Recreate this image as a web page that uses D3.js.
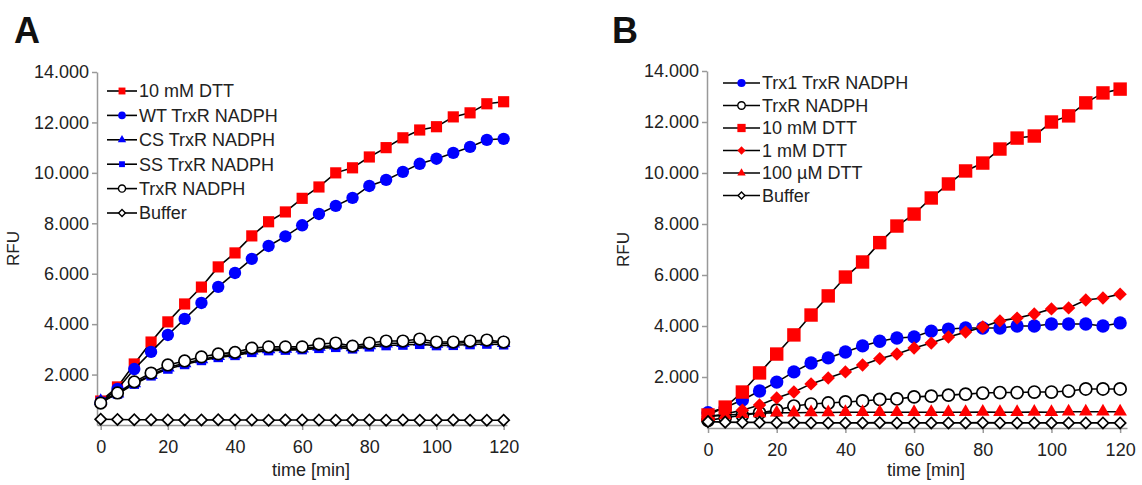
<!DOCTYPE html>
<html>
<head>
<meta charset="utf-8">
<script src="https://cdn.jsdelivr.net/npm/d3@7"></script>
<style>
  body { margin: 0; background: #fff; }
  svg { font-family: Arial, "Liberation Sans", sans-serif; }
</style>
</head>
<body>
<svg width="1142" height="485"></svg>
<script>
// ---- data ----
const time = [0,5,10,15,20,25,30,35,40,45,50,55,60,65,70,75,80,85,90,95,100,105,110,115,120];
const yTicks = [2000,4000,6000,8000,10000,12000,14000];
const xTicks = [0,20,40,60,80,100,120];

// panel A
const a_labels = ['10 mM DTT','WT TrxR NADPH','CS TrxR NADPH','SS TrxR NADPH','TrxR NADPH','Buffer'];
const a_dtt10 = [950,1510,2420,3290,4090,4800,5470,6270,6825,7500,8060,8450,8990,9440,10000,10200,10630,11000,11390,11700,11830,12220,12380,12740,12820];
const a_wt    = [900,1430,2220,2900,3570,4210,4840,5480,6030,6590,7100,7480,7920,8370,8690,9010,9480,9720,10040,10360,10560,10790,11030,11310,11350];
const a_cs    = [950,1250,1650,1980,2280,2450,2600,2730,2800,2950,3000,3020,3030,3100,3150,3080,3160,3230,3250,3300,3220,3230,3280,3300,3250];
const a_ss    = [930,1230,1620,1950,2220,2400,2560,2680,2760,2880,2950,2970,2990,3040,3080,3020,3100,3150,3170,3200,3150,3160,3190,3210,3180];
const a_trxr  = [870,1270,1710,2060,2380,2540,2700,2820,2880,3050,3100,3100,3100,3210,3250,3130,3250,3330,3330,3410,3290,3290,3330,3370,3290];
const a_buf   = [230,220,210,210,200,200,200,210,200,200,190,200,200,200,190,200,200,190,200,190,190,200,190,190,190];

// panel B
const b_labels = ['Trx1 TrxR NADPH','TrxR NADPH','10 mM DTT','1 mM DTT','100 \u00b5M DTT','Buffer'];
const b_trx1   = [600,800,1100,1450,1800,2200,2550,2750,2980,3220,3400,3530,3570,3800,3880,3920,3920,3920,4000,4000,4080,4080,4080,4000,4120];
const b_trxr   = [300,400,500,590,700,860,940,980,1020,1060,1120,1140,1220,1250,1290,1330,1370,1390,1390,1410,1410,1450,1530,1530,1530];
const b_dtt10  = [510,820,1410,2160,2900,3650,4430,5180,5920,6510,7270,7920,8390,9020,9570,10080,10390,10940,11370,11450,12000,12240,12750,13140,13290];
const b_dtt1   = [450,550,700,900,1180,1410,1730,1960,2200,2470,2720,2900,3140,3330,3570,3760,3960,4200,4310,4470,4670,4710,5020,5100,5250];
const b_dtt100 = [450,500,550,580,600,600,610,610,620,620,620,620,620,620,620,620,630,620,620,630,620,640,640,640,640];
const b_buf    = [250,230,220,220,210,210,200,200,200,200,210,200,200,200,200,200,210,200,200,200,200,200,200,200,200];

const svg = d3.select('svg');
const deLocale = d3.formatLocale({decimal: ',', thousands: '.', grouping: [3], currency: ['', '€']});
const fmt = deLocale.format(',');

const RED = '#ff0000', BLUE = '#0000ff';

// marker styles
const mk = {
  redSquare:  {type: d3.symbolSquare, fill: RED, stroke: 'none', rot: 0},
  blueCircle: {type: d3.symbolCircle, fill: BLUE, stroke: 'none', rot: 0},
  blueTri:    {type: d3.symbolTriangle, fill: BLUE, stroke: 'none', rot: 0},
  blueSquare: {type: d3.symbolSquare, fill: BLUE, stroke: 'none', rot: 0},
  openCircle: {type: d3.symbolCircle, fill: '#fff', stroke: '#000', rot: 0},
  openDiamond:{type: d3.symbolSquare, fill: '#fff', stroke: '#000', rot: 45},
  redDiamond: {type: d3.symbolSquare, fill: RED, stroke: 'none', rot: 45},
  redTri:     {type: d3.symbolTriangle, fill: RED, stroke: 'none', rot: 0}
};

function drawPanel(p) {
  const x = d3.scaleLinear().domain(p.xDomain).range([p.left, p.right]);
  const y = d3.scaleLinear().domain([0, 14000]).range([p.bottom, p.top]);
  const g = svg.append('g');

  // axes
  const xa = g.append('g').attr('transform', `translate(0,${p.bottom})`)
    .call(d3.axisBottom(x).tickValues(xTicks).tickSize(5).tickSizeOuter(0).tickPadding(10));
  const ya = g.append('g').attr('transform', `translate(${p.left},0)`)
    .call(d3.axisLeft(y).tickValues(yTicks).tickFormat(fmt).tickSize(5).tickSizeOuter(0).tickPadding(3));
  [xa, ya].forEach(a => {
    a.select('.domain').attr('stroke', '#999').attr('stroke-width', 1.5);
    a.selectAll('.tick line').attr('stroke', '#999').attr('stroke-width', 1.5);
    a.selectAll('.tick text').attr('font-size', '18px').attr('fill', '#222')
      .attr('font-family', 'Arial, "Liberation Sans", sans-serif');
  });

  // lines + markers
  const line = d3.line().x((d, i) => x(time[i])).y(d => y(d));
  p.series.forEach(s => {
    g.append('path').datum(s.values)
      .attr('d', line).attr('fill', 'none')
      .attr('stroke', '#000').attr('stroke-width', 1.6);
    const m = mk[s.marker];
    g.selectAll(null).data(s.values).enter()
      .append('path')
      .attr('d', d3.symbol().type(m.type).size(s.size))
      .attr('transform', (d, i) => `translate(${x(time[i])},${y(d)}) rotate(${m.rot})`)
      .attr('fill', m.fill)
      .attr('stroke', m.stroke)
      .attr('stroke-width', 1.7);
  });

  // legend
  p.series.forEach((s, i) => {
    const ly = p.legY + i * p.legStep;
    const m = mk[s.marker];
    g.append('line')
      .attr('x1', p.legX).attr('x2', p.legX + p.legLen)
      .attr('y1', ly).attr('y2', ly)
      .attr('stroke', '#000').attr('stroke-width', 1.6);
    g.append('path')
      .attr('d', d3.symbol().type(m.type).size(s.size * 0.38))
      .attr('transform', `translate(${p.legX + p.legLen / 2},${ly}) rotate(${m.rot})`)
      .attr('fill', m.fill).attr('stroke', m.stroke).attr('stroke-width', 1.4);
    g.append('text')
      .attr('x', p.legX + p.legLen + 2).attr('y', ly)
      .attr('dy', '0.36em')
      .attr('font-size', '18px').attr('fill', '#222')
      .text(s.label);
  });

  // panel letter and axis titles
  g.append('text').attr('x', p.letterX).attr('y', 43)
    .attr('font-size', '36px').attr('font-weight', 'bold').attr('fill', '#111')
    .text(p.letter);
  g.append('text')
    .attr('transform', `translate(${p.left - 78},${(p.top + p.bottom) / 2}) rotate(-90)`)
    .attr('text-anchor', 'middle').attr('font-size', '17px').attr('fill', '#222')
    .text('RFU');
  g.append('text')
    .attr('x', (p.left + p.right) / 2 + 9).attr('y', 476)
    .attr('text-anchor', 'middle').attr('font-size', '18px').attr('fill', '#222')
    .text('time [min]');
}

drawPanel({
  letter: 'A', letterX: 14,
  xDomain: [-1.1, 121], left: 97, right: 507, top: 72, bottom: 425,
  legX: 107, legLen: 30, legY: 91, legStep: 24.4,
  series: [
    {label: a_labels[0], values: a_dtt10, marker: 'redSquare', size: 125},
    {label: a_labels[1], values: a_wt, marker: 'blueCircle', size: 120},
    {label: a_labels[2], values: a_cs, marker: 'blueTri', size: 80},
    {label: a_labels[3], values: a_ss, marker: 'blueSquare', size: 90},
    {label: a_labels[4], values: a_trxr, marker: 'openCircle', size: 105},
    {label: a_labels[5], values: a_buf, marker: 'openDiamond', size: 62}
  ]
});

drawPanel({
  letter: 'B', letterX: 612,
  xDomain: [-0.3, 122], left: 707, right: 1127, top: 71, bottom: 428,
  legX: 723, legLen: 37, legY: 83, legStep: 22.5,
  series: [
    {label: b_labels[0], values: b_trx1, marker: 'blueCircle', size: 140},
    {label: b_labels[1], values: b_trxr, marker: 'openCircle', size: 115},
    {label: b_labels[2], values: b_dtt10, marker: 'redSquare', size: 180},
    {label: b_labels[3], values: b_dtt1, marker: 'redDiamond', size: 90},
    {label: b_labels[4], values: b_dtt100, marker: 'redTri', size: 80},
    {label: b_labels[5], values: b_buf, marker: 'openDiamond', size: 62}
  ]
});
</script>
</body>
</html>
